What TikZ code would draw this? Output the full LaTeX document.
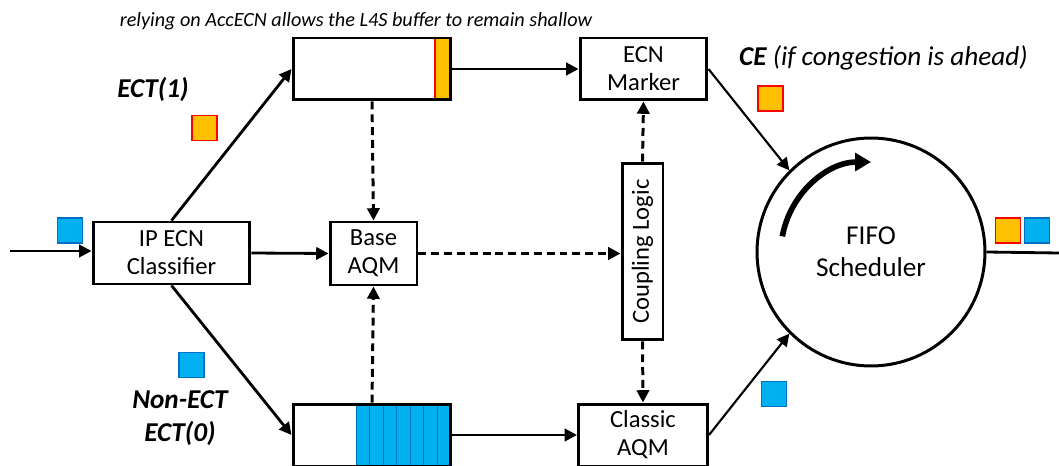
\documentclass[tikz,border=0pt]{standalone}
\usepackage{fontspec}
\setmainfont{Carlito}
\usetikzlibrary{arrows.meta}
\definecolor{pktorange}{HTML}{FFC000}
\definecolor{pktred}{HTML}{FF0000}
\definecolor{pktblue}{HTML}{00B0F0}
\definecolor{pktedge}{HTML}{0070C0}

\begin{document}
\begin{tikzpicture}[x=0.02cm,y=-0.02cm,
  every node/.style={font=\fontsize{14}{16}\selectfont},
  blk/.style={draw,line width=1.7pt,align=center,inner sep=0pt,minimum height=1.24cm},
  queue/.style={draw,line width=1.7pt,inner sep=0pt,minimum width=3.16cm,minimum height=1.24cm},
  flow/.style={line width=1.6pt,-{Triangle[length=7pt,width=7pt]}},
  ctrl/.style={line width=1.7pt,dash pattern=on 4.5pt off 2.8pt,-{Triangle[length=7pt,width=7pt]}},
  lpkt/.style={draw=pktred,fill=pktorange,line width=1.1pt,minimum size=0.5cm,inner sep=0pt},
  cpkt/.style={draw=pktedge,fill=pktblue,line width=1.1pt,minimum size=0.5cm,inner sep=0pt},
  lbl/.style={font=\fontsize{15.5}{19}\selectfont\bfseries\itshape,align=center}]
  \useasboundingbox (0,0) rectangle (1059,466);

  % blocks
  \node[blk,minimum width=3.14cm] (clf) at (171.5,253) {IP ECN\\Classifier};
  \node[blk,minimum width=1.74cm,minimum height=1.26cm] (base) at (373.5,253.5) {Base\\AQM};
  \node[queue,path picture={
      \draw[pktred,fill=pktorange,line width=0.6pt] ([xshift=-0.32cm]path picture bounding box.north east) rectangle (path picture bounding box.south east);
    }] (l4sq) at (372,69) {};
  \node[blk,minimum width=2.54cm] (ecn) at (643.5,69) {ECN\\Marker};
  \node[blk,rotate=90,minimum width=3.54cm,minimum height=0.82cm] (cpl) at (642.5,251.5) {Coupling Logic};
  \node[queue,path picture={
      \foreach \k in {0,...,6}
        \draw[pktedge,fill=pktblue,line width=0.5pt] ([xshift=-1.9cm+\k*0.2714cm]path picture bounding box.north east) rectangle ([xshift=-1.9cm+\k*0.2714cm+0.2714cm]path picture bounding box.south east);
    }] (clq) at (372,435) {};
  \node[blk,minimum width=2.58cm] (cla) at (643,435) {Classic\\AQM};
  \node[circle,draw,line width=1.7pt,minimum size=4.56cm,align=center,font=\fontsize{15.5}{18}\selectfont] (fifo) at (871,252) {FIFO\\Scheduler};

  \coordinate (src) at (10,251);
  \coordinate (sink) at (1059,253);

  % data path
  \draw[flow] (src) -- (src -| clf.west);
  \draw[flow] (clf.north) -- (l4sq.west);
  \draw[flow] (clf.south) -- (clq.west);
  \draw[flow] (clf.east) -- (base.west);
  \draw[flow] (l4sq.east) -- (ecn.west);
  \draw[flow] (clq.east) -- (cla.west);
  \draw[flow,line width=1.2pt] (ecn.east) -- (fifo.135);
  \draw[flow,line width=1.2pt] (cla.east) -- (fifo.-135);
  \draw[line width=1.6pt] (fifo.east) -- (sink);

  % control path
  \draw[ctrl] (l4sq.south) -- (base.north);
  \draw[ctrl] (clq.north) -- (base.south);
  \draw[ctrl] (base.east) -- (base.east -| cpl.north);
  \draw[ctrl] (cpl.east) -- (ecn.south);
  \draw[ctrl] (cpl.west) -- (cla.north);

  \draw[line width=3.2pt,-{Triangle[length=9pt,width=10pt]}] ([shift={(170:1.8cm)}]fifo.center) arc[start angle=170,end angle=90,radius=1.8cm];

  % packets
  \node[lpkt] (p1) at (204.5,128) {};
  \node[lpkt] (p2) at (770.5,98.5) {};
  \node[cpkt] (p3) at (70,230.5) {};
  \node[cpkt] (p4) at (191.5,365) {};
  \node[cpkt] (p5) at (774,394) {};
  \node[lpkt] (p6) at (1008,230.5) {};
  \node[cpkt] (p7) at (1037,230.5) {};

  % labels
  \node[font=\fontsize{11.5}{13}\selectfont\itshape] (note) at (356,21) {relying on AccECN allows the L4S buffer to remain shallow};
  \node[lbl] (ect1) at (153,89) {ECT(1)};
  \node[anchor=west,font=\fontsize{15.5}{16}\selectfont\itshape] (ce) at (733,58) {\textbf{CE} (if congestion is ahead)};
  \node[lbl] (nect) at (180,418) {Non-ECT\\ECT(0)};
\end{tikzpicture}
\end{document}
